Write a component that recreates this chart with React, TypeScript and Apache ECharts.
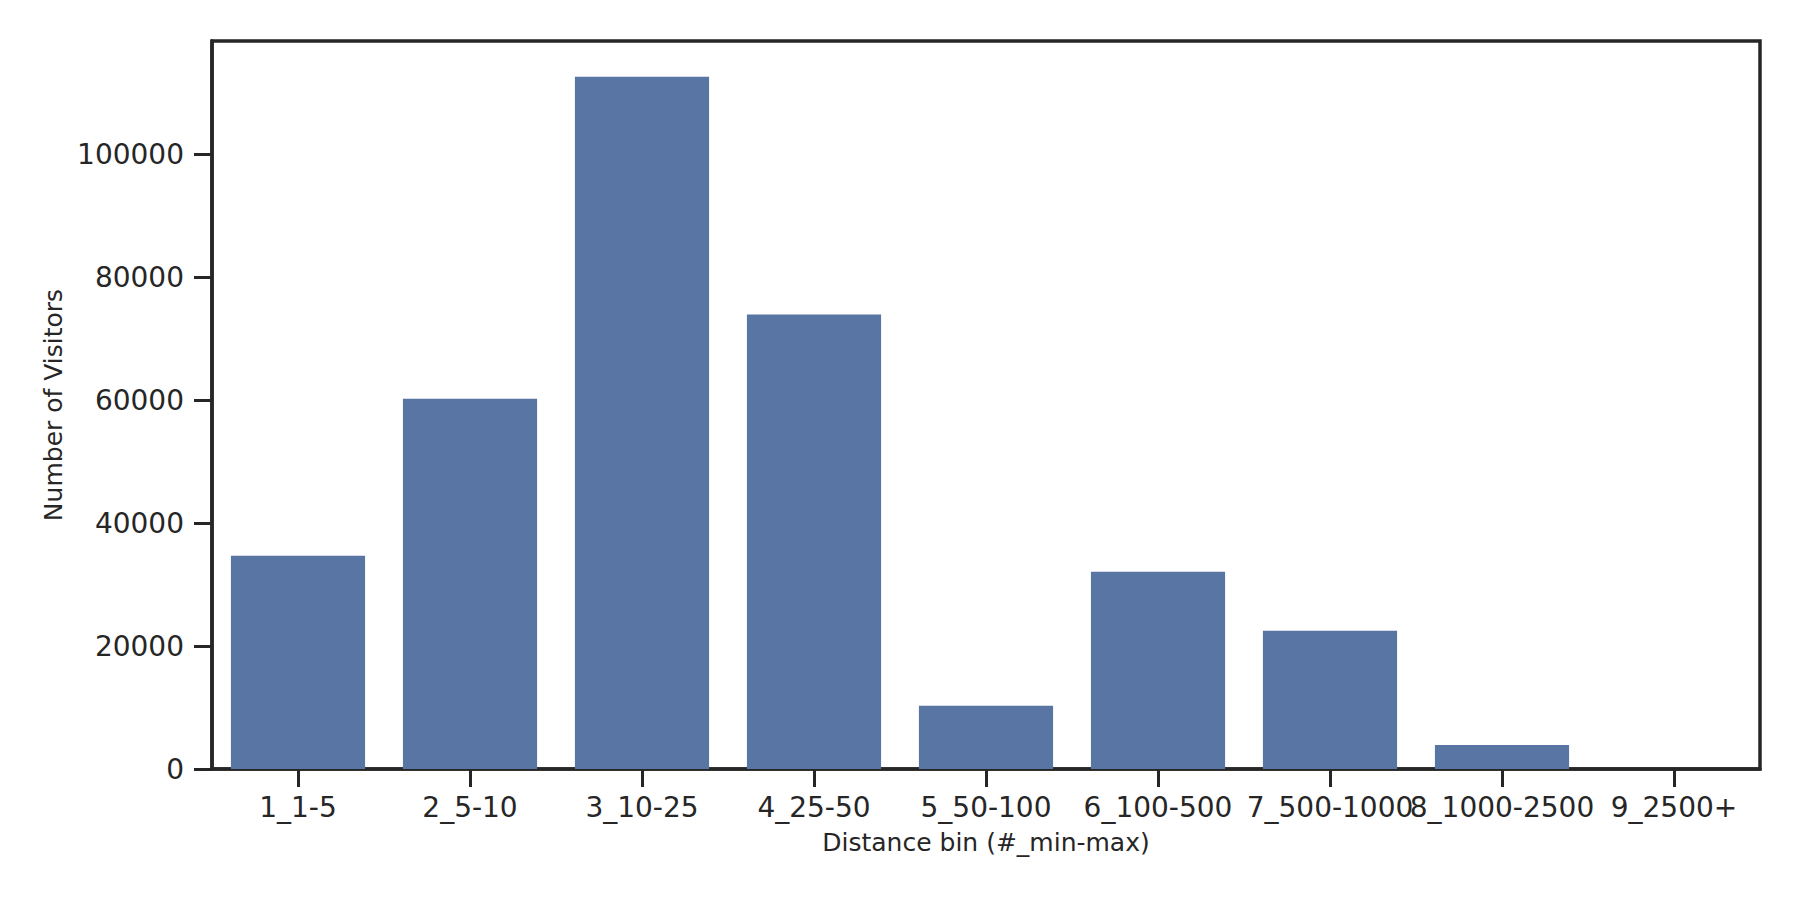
import { useEffect, useRef } from "react";
import * as echarts from "echarts";

const bins = ["1_1-5", "2_5-10", "3_10-25", "4_25-50", "5_50-100", "6_100-500", "7_500-1000", "8_1000-2500", "9_2500+"];
const visitors = [34700, 60200, 112600, 73900, 10300, 32100, 22500, 3900, 0];
const yTicks = [0, 20000, 40000, 60000, 80000, 100000];
const yMax = 118400;

const ink = "#262626";
const font = "DejaVu Sans";

export default function App() {
  const ref = useRef<HTMLDivElement | null>(null);

  useEffect(() => {
    document.body.style.margin = "0";
    if (!ref.current) return;
    const chart = echarts.init(ref.current, null, { renderer: "svg" });
    chart.setOption({
      animation: false,
      backgroundColor: "#ffffff",
      textStyle: { fontFamily: font, color: ink },
      grid: {
        left: 212,
        right: 40,
        top: 41,
        bottom: 131,
        show: true,
        borderColor: ink,
        borderWidth: 3.5,
        backgroundColor: "transparent"
      },
      xAxis: {
        type: "category",
        data: bins,
        name: "Distance bin (#_min-max)",
        nameLocation: "middle",
        nameGap: 61,
        nameTextStyle: { fontFamily: font, fontSize: 25, color: ink },
        axisLine: { show: true, lineStyle: { color: ink, width: 3.5 } },
        axisTick: { show: true, alignWithLabel: true, length: 18, lineStyle: { color: ink, width: 3 } },
        axisLabel: { interval: 0, margin: 24, fontFamily: font, fontSize: 28, color: ink },
        splitLine: { show: false }
      },
      yAxis: {
        type: "value",
        min: 0,
        max: yMax,
        name: "Number of Visitors",
        nameLocation: "middle",
        nameGap: 135,
        nameTextStyle: { fontFamily: font, fontSize: 25, color: ink },
        axisLine: { show: true, lineStyle: { color: ink, width: 3.5 } },
        axisTick: { show: true, length: 18, customValues: yTicks, lineStyle: { color: ink, width: 3 } },
        axisLabel: {
          margin: 28,
          customValues: yTicks,
          formatter: (v: number) => String(v),
          fontFamily: font,
          fontSize: 28,
          color: ink
        },
        splitLine: { show: false }
      },
      series: [
        {
          type: "bar",
          data: visitors,
          barCategoryGap: "22%",
          itemStyle: { color: "#5975a4" }
        }
      ]
    });
    return () => {
      chart.dispose();
    };
  }, []);

  return <div ref={ref} style={{ width: 1800, height: 900 }} />;
}
